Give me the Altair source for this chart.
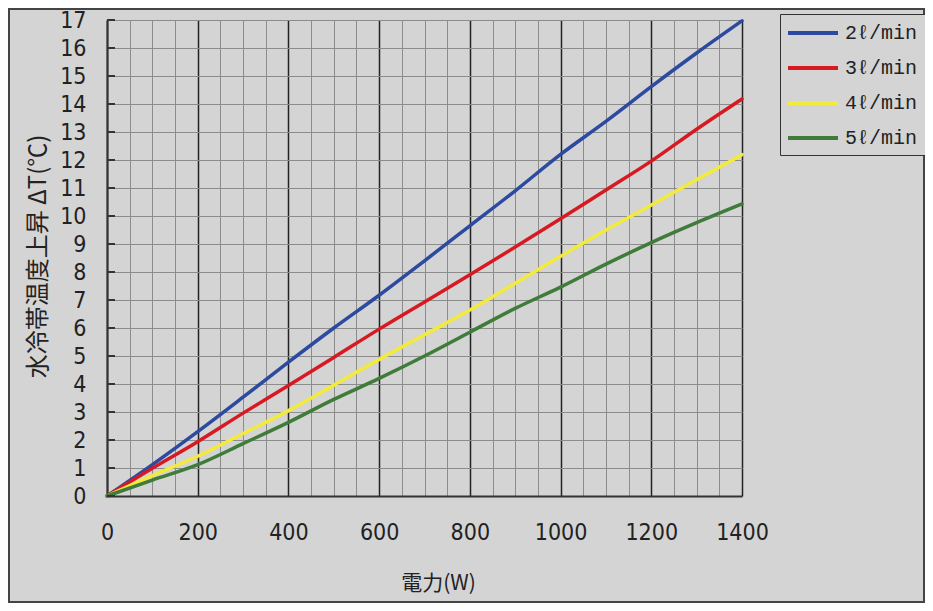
import altair as alt
import pandas as pd

power = [0, 100, 200, 300, 400, 500, 600, 700, 800, 900, 1000, 1100, 1200, 1300, 1400]
flow_2 = [0, 1.12, 2.3, 3.53, 4.78, 6.0, 7.17, 8.4, 9.65, 10.9, 12.2, 13.38, 14.62, 15.82, 16.97]
flow_3 = [0, 0.99, 1.94, 2.96, 3.95, 4.95, 5.96, 6.93, 7.9, 8.89, 9.9, 10.93, 11.96, 13.1, 14.18]
flow_4 = [0, 0.73, 1.42, 2.23, 3.05, 3.96, 4.88, 5.76, 6.64, 7.6, 8.56, 9.5, 10.39, 11.3, 12.19]
flow_5 = [0, 0.57, 1.12, 1.87, 2.63, 3.45, 4.2, 5.0, 5.85, 6.7, 7.46, 8.28, 9.05, 9.76, 10.43]
series_names = ["2ℓ/min", "3ℓ/min", "4ℓ/min", "5ℓ/min"]
series_colors = ["#2b4aa0", "#d71a22", "#f2ea3c", "#3f7c3a"]
x_ticks = list(range(0, 1401, 50))
y_ticks = list(range(0, 18))

rows = []
for name, vals in zip(series_names, [flow_2, flow_3, flow_4, flow_5]):
    for p, v in zip(power, vals):
        rows.append({"power": p, "dt": v, "series": name})
df = pd.DataFrame(rows)

W, H = 635, 476
PL, PT, PR, PB = 99, 12, 183, 107
BG = "#d4d4d4"
TXT = "#222222"
NUMFONT = "DejaVu Sans Condensed, Liberation Sans Narrow, Liberation Sans"
CJK = "Noto Sans CJK JP"

xscale = alt.Scale(domain=[0, 1400], nice=False, zero=True)
yscale = alt.Scale(domain=[0, 17], nice=False)

y_axis = alt.Axis(
    values=y_ticks, grid=True, gridColor="#8c8c8c", gridWidth=1,
    ticks=False, labelPadding=21, labelFont=NUMFONT, labelFontSize=23, labelColor=TXT,
    labelFlush=False, labelOverlap=False,
    domainColor="#333333", domainWidth=2,
    title="水冷帯温度上昇 ΔT(℃)", titleFont=CJK, titleFontSize=24, titleFontWeight="normal",
    titleColor=TXT, titleX=-69, titleY=236, titleAngle=-90, titleBaseline="middle", titleAlign="center",
)

lines = alt.Chart(df).mark_line(strokeWidth=3.5, strokeCap="round", strokeJoin="round",
                                interpolate="monotone").encode(
    x=alt.X("power:Q", scale=xscale, axis=alt.Axis(
        values=x_ticks, format="d",
        labelExpr="datum.value % 200 === 0 ? datum.label : ''",
        grid=True,
        gridColor={"condition": {"test": "datum.value % 200 === 0", "value": "#222222"}, "value": "#8c8c8c"},
        gridWidth={"condition": {"test": "datum.value % 200 === 0", "value": 1.5}, "value": 1},
        ticks=False, labelPadding=25, labelFont=NUMFONT, labelFontSize=23, labelColor=TXT,
        labelFlush=False, labelOverlap=False,
        domainColor="#333333", domainWidth=2,
        title="電力(W)", titleFont=CJK, titleFontSize=21, titleFontWeight="normal", titleColor=TXT,
        titleX=331, titleY=87, titleBaseline="middle", titleAlign="center",
    )),
    y=alt.Y("dt:Q", scale=yscale, axis=y_axis),
    color=alt.Color("series:N", scale=alt.Scale(domain=series_names, range=series_colors),
                    sort=series_names,
                    legend=alt.Legend(
                        title=None, orient="none", legendX=673, legendY=-6,
                        symbolType="M-1.1,0H3.9", symbolSize=400, symbolStrokeWidth=4,
                        symbolFillColor="transparent",
                        labelFont="Liberation Mono", labelFontSize=20, labelColor=TXT,
                        labelOffset=34, rowPadding=13, padding=7,
                        strokeColor="#333333", fillColor=BG,
                    )),
    order=alt.Order("series:N", sort="descending"),
)

tick_df = pd.DataFrame({"v": y_ticks})
inner_ticks = alt.Chart(tick_df).mark_rule(color="#333333", strokeWidth=2).encode(
    y=alt.Y("v:Q", scale=yscale, axis=y_axis),
    x=alt.value(0), x2=alt.value(8),
)

frame = alt.Chart(pd.DataFrame({"a": [0]})).mark_rect(fill=None, stroke="#444444", strokeWidth=2).encode(
    x=alt.value(-PL + 1), x2=alt.value(W + PR - 1),
    y=alt.value(-PT + 1), y2=alt.value(H + PB - 1),
)

chart = alt.layer(lines, inner_ticks, frame).properties(
    width=W, height=H,
    autosize=alt.AutoSizeParams(type="none"),
    padding={"left": PL, "top": PT, "right": PR, "bottom": PB},
    background=BG,
).configure_view(stroke=None)

chart.save("out.html", embed_options={"renderer": "svg", "actions": False})
